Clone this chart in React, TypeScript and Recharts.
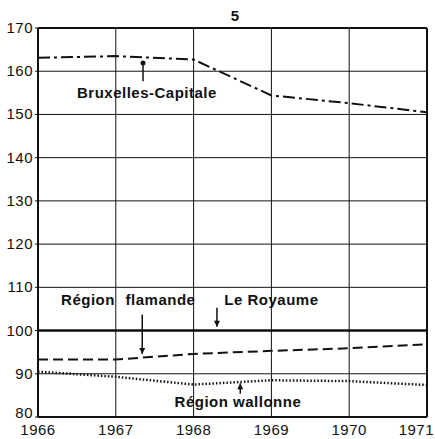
import {
  LineChart,
  Line,
  XAxis,
  YAxis,
  CartesianGrid,
  ReferenceLine,
  ReferenceDot,
} from "recharts";

const YEARS = [1966, 1967, 1968, 1969, 1970, 1971];
const BRUXELLES = [163.1, 163.5, 162.7, 154.4, 152.6, 150.5];
const FLAMANDE = [93.3, 93.3, 94.6, 95.3, 95.9, 96.8];
const WALLONNE = [90.5, 89.3, 87.5, 88.5, 88.3, 87.4];
const ROYAUME = [100, 100, 100, 100, 100, 100];
const Y_TICKS = [80, 90, 100, 110, 120, 130, 140, 150, 160, 170];

const data = YEARS.map((year, i) => ({
  year,
  bruxelles: BRUXELLES[i],
  flamande: FLAMANDE[i],
  wallonne: WALLONNE[i],
  royaume: ROYAUME[i],
}));

const INK = "#111";
const FONT = "'Liberation Sans', Arial, sans-serif";
const LABEL = {
  fill: INK,
  fontSize: 15,
  fontFamily: FONT,
  fontWeight: 600,
  letterSpacing: 0.5,
} as const;

function XTick(props: any) {
  const { x, y, payload } = props;
  const last = payload.value === 1971;
  return (
    <text
      x={last ? x + 15 : x}
      y={y + 12}
      textAnchor={last ? "end" : "middle"}
      fontFamily={FONT}
      fontSize={15}
      letterSpacing={0.5}
      fill={INK}
    >
      {payload.value}
    </text>
  );
}

function YTick(props: any) {
  const { x, y, payload } = props;
  return (
    <text
      x={x}
      y={payload.value === 80 ? y + 1 : y + 5}
      textAnchor="end"
      fontFamily={FONT}
      fontSize={15}
      letterSpacing={0.5}
      fill={INK}
    >
      {payload.value}
    </text>
  );
}

function note(x: number, y: number, text: string) {
  return (
    <ReferenceDot
      x={x}
      y={y}
      r={0}
      stroke="none"
      fill="none"
      label={{ value: text, position: "center", ...LABEL }}
    />
  );
}

function arrow(x: number, from: number, to: number) {
  const down = to < from;
  return (
    <>
      <ReferenceLine
        segment={[
          { x, y: from },
          { x, y: to },
        ]}
        stroke={INK}
        strokeWidth={1.5}
      />
      <ReferenceDot
        x={x}
        y={to}
        r={3}
        shape={(p: any) => (
          <path
            d={
              down
                ? `M${p.cx - 3},${p.cy - 6}L${p.cx + 3},${p.cy - 6}L${p.cx},${p.cy}Z`
                : `M${p.cx - 3},${p.cy + 6}L${p.cx + 3},${p.cy + 6}L${p.cx},${p.cy}Z`
            }
            fill={INK}
          />
        )}
      />
    </>
  );
}

export default function App() {
  return (
    <div style={{ position: "absolute", left: 0, top: 0, background: "#fff" }}>
      <LineChart
        width={435}
        height={439}
        data={data}
        margin={{ top: 28, right: 8, bottom: 0, left: 0 }}
      >
        <text x={235} y={21} textAnchor="middle" fontFamily={FONT} fontSize={15} fontWeight="bold" fill={INK}>
          5
        </text>
        <CartesianGrid stroke={INK} strokeWidth={1} />
        <XAxis
          dataKey="year"
          type="number"
          domain={[1966, 1971]}
          ticks={YEARS}
          tick={<XTick />}
          tickLine={false}
          axisLine={{ stroke: INK, strokeWidth: 2 }}
          height={22}
          tickMargin={0}
        />
        <YAxis
          type="number"
          domain={[80, 170]}
          ticks={Y_TICKS}
          tick={<YTick />}
          tickLine={{ stroke: INK }}
          tickSize={3}
          axisLine={{ stroke: INK, strokeWidth: 2 }}
          width={38}
          interval={0}
        />
        <ReferenceLine x={1971} stroke={INK} strokeWidth={2} />
        <ReferenceLine y={170} stroke={INK} strokeWidth={2} />
        <Line
          dataKey="royaume"
          stroke={INK}
          strokeWidth={2.5}
          dot={false}
          isAnimationActive={false}
        />
        <Line
          dataKey="bruxelles"
          stroke={INK}
          strokeWidth={2}
          strokeDasharray="12 4 3 4"
          dot={false}
          isAnimationActive={false}
        />
        <Line
          dataKey="flamande"
          stroke={INK}
          strokeWidth={2}
          strokeDasharray="10 5"
          dot={false}
          isAnimationActive={false}
        />
        <Line
          dataKey="wallonne"
          stroke={INK}
          strokeWidth={2.5}
          strokeDasharray="1.5 2"
          dot={false}
          isAnimationActive={false}
        />
        <ReferenceLine
          segment={[
            { x: 1967.35, y: 157.7 },
            { x: 1967.35, y: 161.9 },
          ]}
          stroke={INK}
          strokeWidth={1.5}
        />
        <ReferenceDot x={1967.35} y={161.9} r={2.5} fill={INK} stroke="none" />
        {note(1967.4, 155.1, "Bruxelles-Capitale")}
        <ReferenceDot
          x={1967.16}
          y={107.2}
          r={0}
          stroke="none"
          fill="none"
          label={{ value: "Région flamande", position: "center", ...LABEL, wordSpacing: 6 }}
        />
        {note(1969.0, 107.2, "Le Royaume")}
        {arrow(1967.34, 103.7, 94.6)}
        {arrow(1968.3, 105.3, 100.9)}
        {note(1968.57, 83.5, "Région wallonne")}
        {arrow(1968.6, 85.4, 87.8)}
      </LineChart>
    </div>
  );
}
